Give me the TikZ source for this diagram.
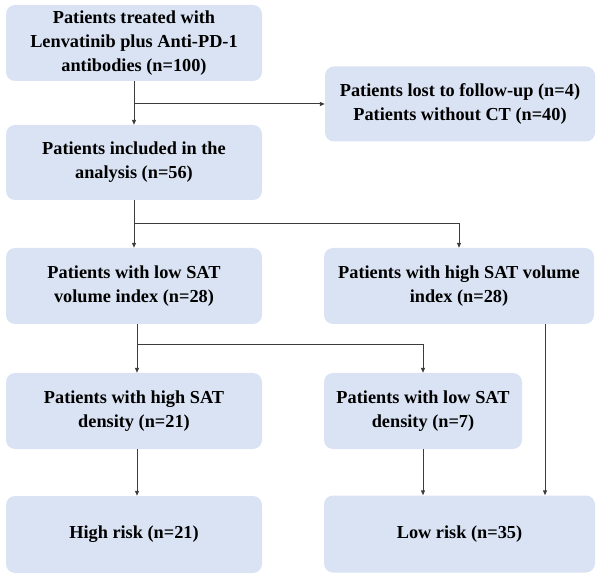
\documentclass[tikz,border=0pt]{standalone}
\usepackage{fontspec}
\setmainfont{Liberation Serif}
\usetikzlibrary{arrows.meta}
\definecolor{boxblue}{RGB}{218,227,243}
\definecolor{linegray}{RGB}{60,60,60}
\begin{document}
\begin{tikzpicture}[x=1pt,y=-1pt,
  box/.style={fill=boxblue, rounded corners=9pt, align=center,
    font=\bfseries\fontsize{18.3}{24}\selectfont, inner sep=0pt},
  conn/.style={draw=linegray, line width=1pt, -{Triangle[length=5pt,width=4pt]}}]
\useasboundingbox (0,0) rectangle (600,577);
\node[box, minimum width=256pt, minimum height=76pt] (b1) at (134,43)
  {Patients treated with\\Lenvatinib plus Anti-PD-1\\antibodies (n=100)};
\node[box, minimum width=270pt, minimum height=75pt] (lost) at (460,104)
  {Patients lost to follow-up (n=4)\\Patients without CT (n=40)};
\node[box, minimum width=256pt, minimum height=75pt] (b2) at (134,162.5)
  {Patients included in the\\analysis (n=56)};
\node[box, minimum width=256pt, minimum height=76pt] (lowvol) at (134,286)
  {Patients with low SAT\\volume index (n=28)};
\node[box, minimum width=270pt, minimum height=76pt] (highvol) at (459,286)
  {Patients with high SAT volume\\index (n=28)};
\node[box, minimum width=256pt, minimum height=76pt] (highden) at (134,411)
  {Patients with high SAT\\density (n=21)};
\node[box, minimum width=198pt, minimum height=76pt] (lowden) at (423,411)
  {Patients with low SAT\\density (n=7)};
\node[box, minimum width=256pt, minimum height=77pt] (highrisk) at (134,534.5)
  {High risk (n=21)};
\node[box, minimum width=271pt, minimum height=77pt] (lowrisk) at (459.5,534)
  {Low risk (n=35)};

\draw[conn] (b1.south) -- (b2.north);
\coordinate (j1) at (134,104);
\draw[conn] (j1) -- (j1 -| lost.west);

\draw[conn] (b2.south) -- (b2.south |- lowvol.north);
\coordinate (j2) at (134,224);
\draw[conn] (j2) -| (highvol.north);

\coordinate (lv) at ([xshift=3pt]lowvol.south);
\draw[conn] (lv) -- (lv |- highden.north);
\coordinate (j3) at (137,345);
\draw[conn] (j3) -| (lowden.north);

\coordinate (hd) at ([xshift=3pt]highden.south);
\draw[conn] (hd) -- (hd |- highrisk.north);
\draw[conn] (lowden.south) -- (lowden.south |- lowrisk.north);
\coordinate (hv) at ([xshift=86pt]highvol.south);
\draw[conn] (hv) -- (hv |- lowrisk.north);
\end{tikzpicture}
\end{document}
